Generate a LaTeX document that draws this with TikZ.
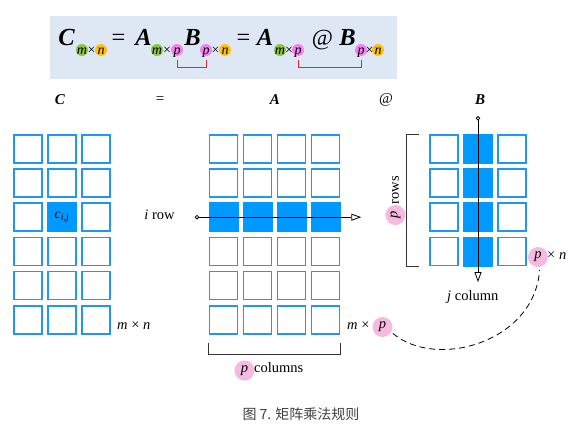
\documentclass[tikz,border=0pt]{standalone}
\usepackage{fontspec}
\setmainfont{Liberation Serif}
\newfontfamily\cjkfont{Noto Sans CJK SC}
\usetikzlibrary{arrows.meta}
\definecolor{cellblue}{RGB}{33,150,243}
\definecolor{fillblue}{RGB}{0,153,255}
\definecolor{boxblue}{RGB}{222,232,245}
\definecolor{mgreen}{RGB}{140,198,63}
\definecolor{norange}{RGB}{255,193,7}
\definecolor{ppink}{RGB}{245,128,240}
\definecolor{plight}{RGB}{248,185,225}
\definecolor{brackred}{RGB}{225,40,45}
\tikzstyle{emptycell} = [draw=cellblue, line width=1.5pt, minimum size=28pt, inner sep=0pt]
\tikzstyle{fullcell} = [draw=fillblue, fill=fillblue, line width=0.6pt, minimum size=29pt, inner sep=0pt]
\tikzstyle{probe} = [draw, line width=0.8pt, {Circle[open,length=4.5pt]}-{Triangle[open,length=10pt,width=7pt]}]
\tikzstyle{big} = [font=\fontsize{24.5}{28}\selectfont\bfseries\itshape, anchor=base, inner sep=0pt]
\tikzstyle{sub} = [font=\fontsize{14}{16}\selectfont, anchor=base, inner sep=0pt]
\tikzstyle{lbl} = [font=\fontsize{14.5}{17}\selectfont, inner sep=0pt]
\tikzstyle{head} = [font=\fontsize{15}{17}\selectfont\bfseries\itshape]
\tikzstyle{pdot} = [circle, fill=plight, minimum size=20pt, inner sep=0pt, font=\fontsize{14.5}{17}\selectfont\itshape]
\tikzstyle{brack} = [draw=black!80, line width=0.9pt]
\tikzstyle{redbrack} = [draw=brackred, line width=0.8pt]

\begin{document}
\begin{tikzpicture}[x=1pt, y=-1pt]
\useasboundingbox (0,0) rectangle (582,429);

% formula
\fill[boxblue] (50,16) rectangle (397,79);
\node[big] (fC) at (66.5,45) {C};
\node[big, font=\fontsize{24.5}{28}\selectfont] (feq1) at (118.5,45) {=};
\node[big] (fA1) at (143.5,45) {A};
\node[big] (fB1) at (192.5,45) {B};
\node[big, font=\fontsize{24.5}{28}\selectfont] (feq2) at (243.5,45) {=};
\node[big] (fA2) at (265,45) {A};
\node[big, font=\fontsize{23}{28}\selectfont] (fat) at (322.5,45) {@};
\node[big] (fB2) at (347.5,45) {B};

\foreach \x/\col/\t [count=\i] in {82/mgreen/m, 101/norange/n, 157/mgreen/m, 177/ppink/p, 206/ppink/p, 225/norange/n, 280/mgreen/m, 298/ppink/p, 361/ppink/p, 378/norange/n} {
  \fill[\col] (\x,50) circle[radius=6pt];
  \node[sub] (s\i) at (\x,54) {\itshape \t};
}
\foreach \x [count=\i] in {91.5,167,215.5,289,369.5}
  \node[sub] (x\i) at (\x,54) {×};

\draw[redbrack] ([yshift=-3pt]s4.south) -- ++(0,7) -| ([yshift=-3pt]s5.south);
\draw[redbrack] ([yshift=-3pt]s8.south) -- ++(0,7) -| ([yshift=-3pt]s9.south);

% headings
\node[head] (hC) at (60,100) {C};
\node[head, font=\fontsize{15}{17}\selectfont] (heq) at (160,100) {=};
\node[head] (hA) at (275,100) {A};
\node[head, font=\fontsize{15}{17}\selectfont] (hat) at (386,100) {@};
\node[head] (hB) at (480,100) {B};

% matrices
\foreach \r in {1,...,6}
  \foreach \c in {1,2,3}
    \node[emptycell] (C-\r-\c) at ({28+34*(\c-1)}, {148.8+34.2*(\r-1)}) {};
\foreach \r in {1,...,6}
  \foreach \c in {1,...,4}
    \node[emptycell] (A-\r-\c) at ({223.5+34*(\c-1)}, {148.8+34.2*(\r-1)}) {};
\foreach \r in {1,...,4}
  \foreach \c in {1,2,3}
    \node[emptycell] (B-\r-\c) at ({444+34*(\c-1)}, {148.8+34.2*(\r-1)}) {};

\node[fullcell, font=\fontsize{14}{16}\selectfont] (cij) at (C-3-2) {\itshape c\textsubscript{\itshape i,j}};
\foreach \c in {1,...,4}
  \node[fullcell] (Af-\c) at (A-3-\c) {};
\foreach \r in {1,...,4}
  \node[fullcell] (Bf-\r) at (B-\r-2) {};

% row and column probes
\coordinate (istart) at ([xshift=-14pt]A-3-1.west);
\coordinate (iend) at ([xshift=21pt]A-3-4.east);
\draw[probe] (istart) -- (iend);
\coordinate (jstart) at ([yshift=18pt]B-1-2.north);
\coordinate (jend) at ([yshift=-16pt]B-4-2.south);
\draw[probe] (jstart) -- (jend);

\node[lbl, anchor=mid east] (irow) at ([xshift=-20pt]istart) {\textit{i} row};
\node[lbl, anchor=mid west] (jcol) at (447,298) {\textit{j} column};

% sizes
\node[lbl, anchor=mid west] (Cdim) at (117,327) {\textit{m} × \textit{n}};
\node[lbl, anchor=mid west] (Adim) at (347,327) {\textit{m} ×};
\node[pdot] (Ap) at (382.5,327) {p};
\node[pdot] (Bp) at (538,257) {p};
\node[lbl, anchor=mid west] (Bdim) at (547,257) {× \textit{n}};

% brackets
\draw[brack] ([yshift=-8.5pt]A-6-1.south west) -- ++(0,11) -| ([yshift=-8.5pt]A-6-4.south east);
\node[pdot] (colp) at (244.5,370.5) {p};
\node[lbl, anchor=mid west] (cols) at (254,370) {columns};
\draw[brack] ([xshift=-10pt]B-1-1.north west) -- ++(-12.5,0) |- ([xshift=-10pt]B-4-1.south west);
\node[pdot, rotate=90] (rowp) at (395.5,215) {p};
\node[lbl, rotate=90] (rows) at (395.5,190) {rows};

\draw[dashed, dash pattern=on 6pt off 4pt, line width=0.8pt, shorten <=2pt, shorten >=3pt]
  (Ap.-30) .. controls +(45,38) and +(-5,75) .. (Bp.-80);

\node[font=\cjkfont\fontsize{14}{16}\selectfont, text=black!75] (caption) at (301,414) {图 7. 矩阵乘法规则};
\end{tikzpicture}
\end{document}
